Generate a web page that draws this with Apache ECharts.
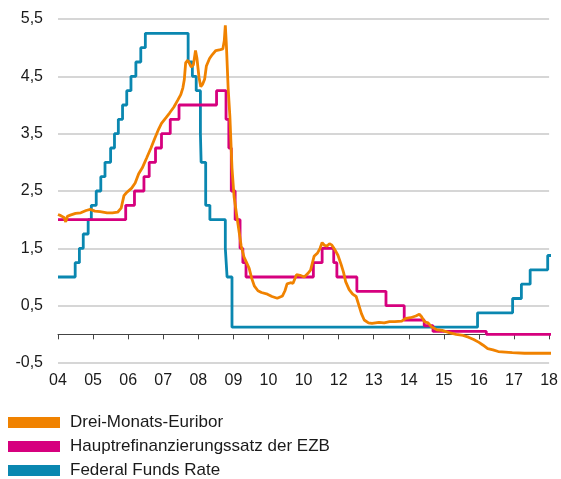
<!DOCTYPE html>
<html>
<head>
<meta charset="utf-8">
<script src="https://cdn.jsdelivr.net/npm/echarts@6/dist/echarts.min.js"></script>
<style>
  html, body { margin: 0; padding: 0; background: #fff; }
  #chart { width: 561px; height: 479px; }
</style>
</head>
<body>
<div id="chart"></div>
<script>
// Achsenbeschriftungen
const xTickLabels = ['04', '05', '06', '07', '08', '09', '10', '10', '12', '13', '14', '15', '16', '17', '18']
const yTickLabels = ['-0,5', '0,5', '1,5', '2,5', '3,5', '4,5', '5,5']
const seriesNames = ['Drei-Monats-Euribor', 'Hauptrefinanzierungssatz der EZB', 'Federal Funds Rate']

// [Jahr, Zins in %]
const euribor = [
  [2004.0, 2.09], [2004.08, 2.07], [2004.17, 2.04], [2004.22, 1.96], [2004.27, 2.06],
  [2004.35, 2.08], [2004.5, 2.11], [2004.65, 2.12], [2004.8, 2.16], [2004.92, 2.18],
  [2005.05, 2.15], [2005.2, 2.14], [2005.4, 2.12], [2005.55, 2.12], [2005.7, 2.13],
  [2005.8, 2.2], [2005.88, 2.42], [2005.95, 2.47], [2006.1, 2.55], [2006.2, 2.64],
  [2006.3, 2.8], [2006.4, 2.9], [2006.53, 3.08], [2006.65, 3.25], [2006.76, 3.42],
  [2006.87, 3.58], [2006.95, 3.68], [2007.08, 3.78], [2007.18, 3.86], [2007.3, 3.96],
  [2007.41, 4.08], [2007.5, 4.18], [2007.56, 4.3], [2007.6, 4.44], [2007.64, 4.74],
  [2007.7, 4.78], [2007.75, 4.72], [2007.8, 4.66], [2007.86, 4.7], [2007.92, 4.95],
  [2007.96, 4.82], [2008.02, 4.48], [2008.07, 4.32], [2008.12, 4.36], [2008.18, 4.45],
  [2008.23, 4.68], [2008.32, 4.81], [2008.4, 4.88], [2008.5, 4.95], [2008.6, 4.96],
  [2008.7, 4.98], [2008.74, 5.12], [2008.77, 5.39], [2008.8, 5.05], [2008.85, 4.3],
  [2008.9, 3.8], [2008.96, 2.9], [2009.02, 2.4], [2009.1, 2.05], [2009.22, 1.55],
  [2009.3, 1.35], [2009.37, 1.26], [2009.45, 1.15], [2009.52, 0.98], [2009.6, 0.84],
  [2009.7, 0.76], [2009.8, 0.73], [2009.97, 0.7], [2010.1, 0.66], [2010.25, 0.63],
  [2010.4, 0.67], [2010.47, 0.76], [2010.53, 0.88], [2010.63, 0.9], [2010.7, 0.89],
  [2010.8, 1.04], [2010.9, 1.03], [2011.02, 1.0], [2011.12, 1.06], [2011.2, 1.12],
  [2011.3, 1.36], [2011.4, 1.42], [2011.47, 1.5], [2011.53, 1.6], [2011.6, 1.55],
  [2011.67, 1.54], [2011.74, 1.58], [2011.8, 1.56], [2011.9, 1.47], [2011.98, 1.38],
  [2012.07, 1.22], [2012.14, 1.08], [2012.2, 0.92], [2012.3, 0.78], [2012.4, 0.7],
  [2012.5, 0.66], [2012.58, 0.5], [2012.65, 0.36], [2012.73, 0.25], [2012.85, 0.2],
  [2012.95, 0.19], [2013.15, 0.21], [2013.3, 0.2], [2013.45, 0.22], [2013.6, 0.22],
  [2013.8, 0.23], [2013.92, 0.28], [2014.05, 0.29], [2014.2, 0.32], [2014.3, 0.35],
  [2014.36, 0.31], [2014.45, 0.22], [2014.55, 0.2], [2014.65, 0.13], [2014.8, 0.08],
  [2014.95, 0.07], [2015.15, 0.03], [2015.35, 0.0], [2015.55, -0.02], [2015.7, -0.05],
  [2015.85, -0.09], [2016.0, -0.14], [2016.12, -0.19], [2016.25, -0.25], [2016.4, -0.27],
  [2016.55, -0.3], [2016.75, -0.31], [2016.95, -0.32], [2017.3, -0.33], [2017.7, -0.33],
  [2018.1, -0.33]
]

// Leitzins EZB (Stufen, Datum der Änderung)
const ezb = [
  [2004.0, 2.0], [2005.93, 2.25], [2006.18, 2.5], [2006.45, 2.75], [2006.6, 3.0],
  [2006.78, 3.25], [2006.95, 3.5], [2007.2, 3.75], [2007.45, 4.0], [2008.52, 4.25],
  [2008.79, 3.75], [2008.87, 3.25], [2008.94, 2.5], [2009.05, 2.0], [2009.19, 1.5],
  [2009.27, 1.25], [2009.36, 1.0], [2011.28, 1.25], [2011.53, 1.5], [2011.86, 1.25],
  [2011.95, 1.0], [2012.52, 0.75], [2013.35, 0.5], [2013.87, 0.25], [2014.44, 0.15],
  [2014.69, 0.05], [2016.21, 0.0], [2018.1, 0.0]
]

// Federal Funds Rate (Mitte des Zielbands)
const fed = [
  [2004.0, 1.0], [2004.49, 1.25], [2004.61, 1.5], [2004.72, 1.75], [2004.86, 2.0],
  [2004.95, 2.25], [2005.09, 2.5], [2005.22, 2.75], [2005.34, 3.0], [2005.5, 3.25],
  [2005.61, 3.5], [2005.72, 3.75], [2005.84, 4.0], [2005.96, 4.25], [2006.08, 4.5],
  [2006.22, 4.75], [2006.36, 5.0], [2006.49, 5.25], [2007.71, 4.75], [2007.83, 4.5],
  [2007.94, 4.25], [2008.06, 3.5], [2008.08, 3.0], [2008.21, 2.25], [2008.33, 2.0],
  [2008.77, 1.5], [2008.82, 1.0], [2008.96, 0.125], [2015.96, 0.375], [2016.96, 0.625],
  [2017.21, 0.875], [2017.46, 1.125], [2017.96, 1.375], [2018.1, 1.375]
]

const colors = ['#f08200', '#d6007e', '#0a87b0']
const font = '"Liberation Sans", Arial, sans-serif'

const chart = echarts.init(document.getElementById('chart'))

const optionData = {
  animation: false,
  textStyle: { fontFamily: font },
  grid: {
    left: 58,
    right: 10,
    top: 19,
    bottom: 116
  },
  legend: {
    orient: 'vertical',
    left: 8,
    top: 414,
    height: 80,
    padding: 0,
    icon: 'rect',
    itemWidth: 52,
    itemHeight: 11,
    itemGap: 7,
    data: seriesNames,
    textStyle: {
      fontFamily: font,
      fontSize: 17,
      lineHeight: 17,
      color: '#1a1a1a',
      padding: [0, 0, 0, 5]
    }
  },
  xAxis: {
    type: 'value',
    min: 2004,
    max: 2018,
    interval: 1,
    splitLine: { show: false },
    axisLine: { onZero: true, lineStyle: { color: '#444', width: 1 } },
    axisTick: { show: true, length: 5, lineStyle: { color: '#444' } },
    axisLabel: {
      margin: 10,
      fontSize: 16,
      color: '#1a1a1a',
      fontFamily: font,
      formatter: v => xTickLabels[Math.round(v - 2004)] || ''
    }
  },
  yAxis: {
    type: 'value',
    min: -0.5,
    max: 5.5,
    interval: 1,
    axisLine: { show: false },
    axisTick: { show: false },
    splitLine: { lineStyle: { color: '#c8c8c8', width: 1.5 } },
    axisLabel: {
      margin: 15,
      fontSize: 16,
      color: '#1a1a1a',
      fontFamily: font,
      formatter: v => yTickLabels[Math.round(v + 0.5)] || ''
    }
  },
  series: [
    {
      name: seriesNames[2],
      type: 'line',
      step: 'end',
      data: fed,
      showSymbol: false,
      clip: false,
      itemStyle: { color: colors[2] },
      lineStyle: { color: colors[2], width: 2.8 }
    },
    {
      name: seriesNames[1],
      type: 'line',
      step: 'end',
      data: ezb,
      showSymbol: false,
      clip: false,
      itemStyle: { color: colors[1] },
      lineStyle: { color: colors[1], width: 2.8 }
    },
    {
      name: seriesNames[0],
      type: 'line',
      data: euribor,
      showSymbol: false,
      clip: false,
      itemStyle: { color: colors[0] },
      lineStyle: { color: colors[0], width: 2.8 }
    }
  ]
}

chart.setOption(optionData)
</script>
</body>
</html>
